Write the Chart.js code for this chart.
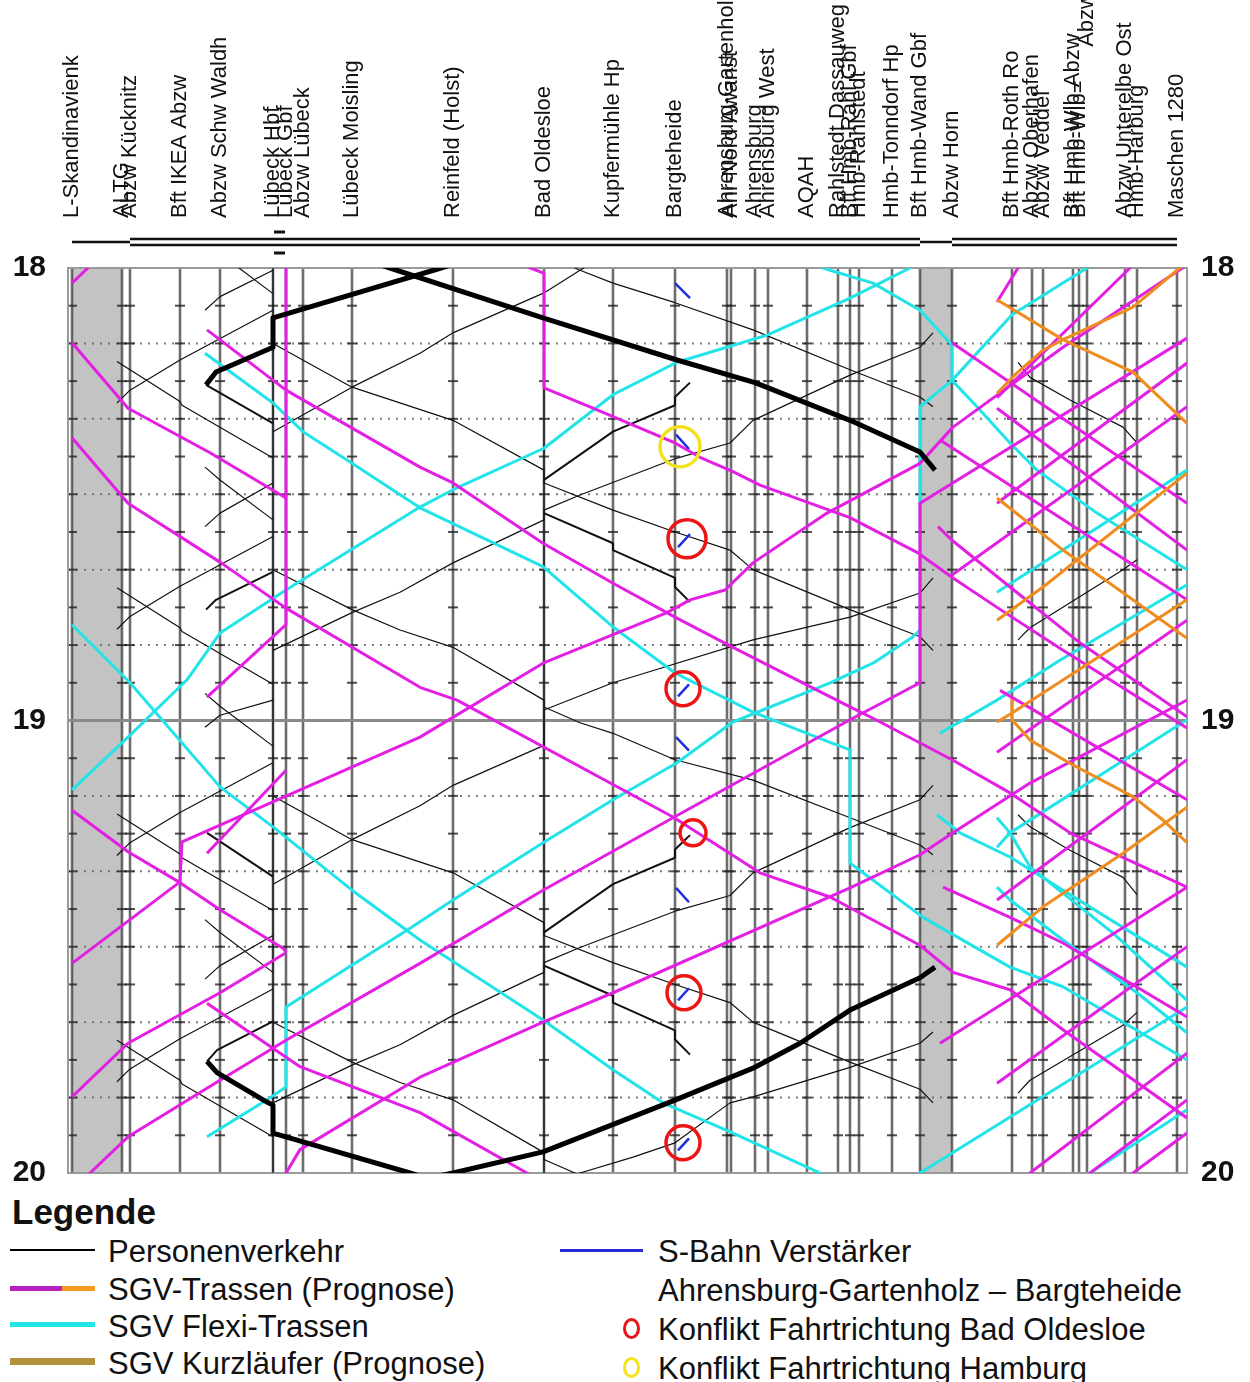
<!DOCTYPE html>
<html>
<head>
<meta charset="utf-8">
<script src="https://cdn.jsdelivr.net/npm/chart.js@4.4.1/dist/chart.umd.min.js"></script>
<style>
  html, body { margin: 0; padding: 0; background: #fff; }
  #wrap { position: relative; width: 1250px; height: 1382px; overflow: hidden; background: #fff; }
  #c { position: absolute; left: 0; top: 0; }
  .lt { position: absolute; font-family: 'Liberation Sans', Arial, sans-serif; font-size: 31px; line-height: 31px; color: #111; white-space: nowrap; }
  .ln { position: absolute; }
  .ci { position: absolute; width: 17px; height: 21px; box-sizing: border-box; border: 3px solid; border-radius: 50%; }
</style>
</head>
<body>
<div id="wrap">
  <canvas id="c" width="1250" height="1192"></canvas>

  <div class="lt" style="left:12px;top:1194px;font-size:35px;line-height:35px;font-weight:bold;">Legende</div>

  <div class="ln" style="left:10px;top:1249px;width:85px;height:2px;background:#000;"></div>
  <div class="lt" style="left:108px;top:1236px;">Personenverkehr</div>

  <div class="ln" style="left:10px;top:1286px;width:52px;height:5px;background:#b520c0;"></div>
  <div class="ln" style="left:62px;top:1286px;width:33px;height:5px;background:#f39a1e;"></div>
  <div class="lt" style="left:108px;top:1274px;">SGV-Trassen (Prognose)</div>

  <div class="ln" style="left:10px;top:1322px;width:85px;height:5px;background:#22e6e6;"></div>
  <div class="lt" style="left:108px;top:1311px;">SGV Flexi-Trassen</div>

  <div class="ln" style="left:10px;top:1358px;width:85px;height:7px;background:#b4923a;"></div>
  <div class="lt" style="left:108px;top:1348px;">SGV Kurzläufer (Prognose)</div>

  <div class="ln" style="left:560px;top:1249px;width:83px;height:3px;background:#2a2ad8;"></div>
  <div class="lt" style="left:658px;top:1236px;">S-Bahn Verstärker</div>
  <div class="lt" style="left:658px;top:1275px;">Ahrensburg-Gartenholz – Bargteheide</div>

  <div class="ci" style="left:623px;top:1318px;border-color:#e8141a;"></div>
  <div class="lt" style="left:658px;top:1314px;">Konflikt Fahrtrichtung Bad Oldesloe</div>

  <div class="ci" style="left:623px;top:1357px;border-color:#f4e41a;"></div>
  <div class="lt" style="left:658px;top:1353px;">Konflikt Fahrtrichtung Hamburg</div>
</div>

<script>
// ---------------- DATA ----------------
// Stations (x: km-like position)
const stationNames = ["L-Skandinavienk","ALTG","Abzw Kücknitz","Bft IKEA Abzw","Abzw Schw Waldh","Lübeck Hbf","Lübeck Gbf","Abzw Lübeck","Lübeck Moisling","Reinfeld (Holst)","Bad Oldesloe","Kupfermühle Hp","Bargteheide","Ahrensburg-Gartenholz","Ahr-Nord Awanst","Ahrensburg","Ahrensburg West","AQAH","Rahlstedt Dassauweg","Bft Hmb-Rahl Gbf","Hmb-Rahlstedt","Hmb-Tonndorf Hp","Bft Hmb-Wand Gbf","Abzw Horn","Bft Hmb-Roth Ro","Abzw Oberhafen","Abzw Veddel","Bft Hmb-Wlb Abzw","Bft Hmb-Wlb=","                            Abzw Wlb","Abzw Unterelbe Ost","Hmb-Harburg","Maschen 1280"];
const stationKm = [0.4,5.4,6.2,11.2,15.2,20.5,21.8,23.5,28.4,38.5,47.6,54.5,60.7,65.9,66.3,68.7,70.0,73.9,77.0,78.2,79.1,82.4,85.2,88.4,94.4,96.4,97.5,100.5,101.1,101.9,105.7,106.9,110.9];
// time axis: minutes after 18:00, labels every hour
const timeTicks = [0, 60, 120];
const hourLabels = ["18", "19", "20"];
// shaded station areas and track layout (km ranges)
const greyBands = [[0.4,5.4],[85.2,88.4]];
const singleTrack = [[0.4,6.2],[85.2,88.4]];
const doubleTrack = [[6.2,85.2],[88.4,110.9]];

// Paths: [km, minute]
const personenverkehr = [
  [[4.9,17.9],[6.2,16.2],[11.2,12.2],[20.5,5.6]],
  [[4.9,47.9],[6.2,46.2],[11.2,42.2],[20.5,35.6]],
  [[4.9,77.9],[6.2,76.2],[11.2,72.2],[20.5,65.6]],
  [[4.9,107.9],[6.2,106.2],[11.2,102.2],[20.5,95.6]],
  [[4.9,12.4],[11.2,17.7],[11.4,18.2],[20.5,25.2]],
  [[4.9,42.4],[11.2,47.7],[11.4,48.2],[20.5,55.2]],
  [[4.9,72.4],[11.2,77.7],[11.4,78.2],[20.5,85.2]],
  [[4.9,102.4],[11.2,107.7],[11.4,108.2],[20.5,115.2]],
  [[20.5,0.3],[15.2,3.8],[13.7,5.6]],
  [[20.5,28.5],[15.2,32.5],[13.7,34.3]],
  [[20.5,57.3],[15.2,59.3],[13.7,60.9]],
  [[20.5,88.5],[15.2,92.5],[13.7,94.3]],
  [[13.7,-3.6],[15.2,-1.9],[20.5,3.4]],
  [[13.7,26.4],[15.2,28.1],[20.5,33.4]],
  [[13.7,56.4],[15.2,58.1],[20.5,63.4]],
  [[13.7,86.4],[15.2,88.1],[20.5,93.4]],
  [[47.6,-1.8],[51.2,0.3],[54.5,2.0],[60.7,4.6],[68.5,8.2],[78.2,13.5],[85.2,17.1],[86.5,18.4]],
  [[20.5,10.0],[28.4,15.8],[38.5,20.2],[47.6,26.8],[47.6,28.5],[54.5,32.1],[60.7,35.0],[66.2,37.4],[68.5,40.0],[78.2,45.3],[85.2,48.9],[86.5,50.7]],
  [[20.5,40.0],[28.4,45.3],[33.2,48.0],[38.5,50.3],[47.6,57.3],[47.6,58.2],[51.2,60.3],[54.5,61.7],[60.7,65.2],[68.5,67.9],[78.2,72.9],[85.2,76.5],[86.5,77.8]],
  [[20.5,70.0],[28.4,75.8],[38.5,80.2],[47.6,86.8],[47.6,88.5],[54.5,92.1],[60.7,95.0],[66.2,97.4],[68.5,100.0],[78.2,105.3],[85.2,108.9],[86.5,110.7]],
  [[20.5,100.0],[28.4,105.3],[33.2,108.0],[38.5,110.3],[47.6,117.3],[47.6,118.2],[51.2,120.3],[54.5,121.7]],
  [[54.5,-2.4],[51.2,0.3],[47.6,3.3],[38.5,8.6],[35.2,11.3],[28.4,15.8],[20.5,21.7]],
  [[86.5,8.6],[85.2,10.5],[78.2,14.2],[68.5,20.2],[66.2,23.2],[60.9,25.2],[51.2,30.1],[47.6,32.1],[47.6,33.4],[38.5,39.1],[33.2,43.0],[28.4,45.7],[20.5,50.7]],
  [[86.5,41.1],[85.2,43.1],[78.2,46.3],[68.5,49.3],[56.5,54.2],[54.5,55.0],[47.6,58.6],[47.6,63.3],[38.5,68.6],[35.2,71.3],[28.4,75.8],[20.5,81.7]],
  [[86.5,68.6],[85.2,70.5],[78.2,74.2],[68.5,80.2],[66.2,83.2],[60.9,85.2],[51.2,90.1],[47.6,92.1],[47.6,93.4],[38.5,99.1],[33.2,103.0],[28.4,105.7],[20.5,110.7]],
  [[86.5,101.3],[85.2,102.8],[78.2,106.0],[68.5,109.9],[66.2,110.7],[60.7,116.0],[56.5,117.9],[51.2,120.0],[49.2,120.9]],
  [[95.0,12.5],[96.2,14.5],[100.2,17.5],[105.5,21.1],[106.9,23.2]],
  [[95.0,72.5],[96.2,74.1],[100.2,77.2],[105.5,80.8],[106.9,83.1]],
  [[95.0,49.3],[96.2,47.7],[105.5,40.0],[106.9,38.7]],
  [[95.0,109.4],[96.2,107.7],[105.5,100.4],[106.9,98.7]],
  [[20.5,-1],[20.5,121]],
  [[47.6,16.0],[47.6,121]]
];
const personenverkehrMittel = [
  [[62.2,15.2],[60.7,17.1],[60.7,18.2],[54.5,21.7],[47.6,28.1]],
  [[47.6,32.5],[54.5,36.5],[54.5,37.4],[60.7,41.1],[60.7,42.3],[62.2,44.3]],
  [[62.2,75.2],[60.7,77.1],[60.7,78.2],[54.5,81.7],[47.6,88.1]],
  [[47.6,92.5],[54.5,96.5],[54.5,97.4],[60.7,101.1],[60.7,102.3],[62.2,104.3]],
  [[13.8,15.5],[20.5,20.6]],
  [[13.9,74.9],[20.5,80.7]],
  [[20.5,40.3],[14.8,44.0],[13.8,45.3]],
  [[20.5,99.9],[14.9,103.7],[13.9,105.2]]
];
const personenverkehrDick = [
  [[40.2,-1.2],[37.3,0],[20.5,6.6],[20.5,10.5],[14.8,13.8],[13.8,15.5]],
  [[29.2,-1.3],[32.2,0],[47.5,6.6],[60.9,12.2],[68.7,15.2],[78.2,20.2],[85.2,24.4],[86.7,26.8]],
  [[13.9,105.2],[14.9,106.7],[19.9,110.6],[20.5,111.0],[20.5,114.7],[34.2,120],[37.2,121.2]],
  [[86.7,92.7],[85.2,94.1],[78.2,98.4],[73.2,102.8],[68.5,106.1],[60.2,110.6],[47.5,117.2],[38.5,120],[35.2,120.9]]
];
const sgvTrassen = [
  [[2.85,-1.1],[0.4,2.0]],
  [[0.4,9.9],[6.0,18.6],[14.2,24.5],[21.8,30.5]],
  [[0.4,22.5],[6.0,31.2],[15.2,39.0],[21.8,45.1],[35.2,55.6],[38.9,57.3],[60.5,72.8],[69.2,80.2],[76.2,83.4],[85.2,89.8],[88.5,93.4],[94.2,95.7],[99.5,101.0],[111.9,112.7]],
  [[21.8,-1],[21.8,47.3],[13.9,56.9]],
  [[21.8,66.6],[13.9,77.6]],
  [[0.4,92.2],[11.2,81.4],[11.4,76.1],[35.2,62.2],[47.5,52.4],[59.9,45.7],[62.2,44.0],[65.7,42.7],[68.5,39.1],[75.9,32.5],[85.2,25.9],[88.5,21.1],[99.5,10.5],[111.9,-0.4],[113.2,-1.6]],
  [[44.7,-0.8],[47.6,0.7],[47.6,15.9],[52.2,18.4],[60.7,23.2],[63.2,25.1],[66.5,27.0],[69.2,28.8],[78.2,33.1],[84.9,37.7],[88.5,41.1],[92.9,45.0],[99.5,50.7],[111.9,61.0]],
  [[0.4,71.9],[6.0,77.4],[11.2,81.5],[15.2,85.1],[21.5,90.2],[21.8,90.7]],
  [[21.8,90.8],[15.2,96.1],[6.0,102.8],[0.4,109.9]],
  [[1.2,121.2],[2.2,120],[6.0,115.2],[15.2,107.7],[21.8,102.4],[35.2,92.2],[47.5,82.5],[60.5,72.9],[78.2,59.9],[85.2,55.0],[85.2,31.2],[111.9,9.3]],
  [[13.9,97.5],[23.2,105.9],[35.2,112.0],[45.9,120],[47.7,121.3]],
  [[21.5,121],[21.8,120],[23.2,116.9],[35.2,107.3],[47.5,100.0],[54.5,96.1],[78.2,82.2],[85.2,77.8],[88.5,74.9],[96.2,68.3],[111.9,57.3]],
  [[13.9,8.2],[21.8,16.2],[35.2,26.4],[38.5,28.5],[47.5,36.5],[54.5,41.8],[60.7,46.3],[66.5,50.3],[78.2,58.2],[80.5,59.7],[88.4,65.2],[94.2,69.6],[100.2,74.9],[111.9,82.1]],
  [[95.5,-1.1],[95.0,0],[92.9,4.5]],
  [[107.1,-1.1],[106.2,0],[92.9,17.2]],
  [[88.4,9.9],[111.9,31.2]],
  [[92.9,18.6],[111.9,37.4]],
  [[87.2,22.8],[111.9,44.0]],
  [[87.0,34.3],[88.4,36.1],[94.2,42.3],[101.2,49.7],[111.9,59.5]],
  [[92.9,31.2],[111.9,12.6]],
  [[88.4,40.7],[111.9,18.4]],
  [[93.2,56.0],[111.9,70.5]],
  [[87.5,82.1],[94.2,86.1],[99.5,89.5],[111.9,99.3]],
  [[92.9,83.8],[111.9,65.2]],
  [[87.2,102.8],[111.9,82.1]],
  [[92.9,108.1],[111.9,90.0]],
  [[95.4,121],[96.2,120],[111.9,104.1]],
  [[101.2,121.2],[102.2,120],[111.9,110.3]],
  [[105.4,121.2],[106.5,120],[111.9,114.7]],
  [[92.9,64.2],[111.9,46.7]]
];
const sgvOrange = [
  [[92.9,4.2],[99.5,9.5],[106.5,13.8],[111.9,20.6]],
  [[92.9,16.6],[94.9,13.9],[97.5,10.9],[99.5,9.5],[106.5,5.2],[110.9,0.3],[111.9,-0.8]],
  [[92.9,30.5],[99.5,37.4],[111.9,49.1]],
  [[92.9,46.7],[97.5,42.3],[111.9,27.2]],
  [[92.9,60.2],[94.4,59.0],[111.9,44.0]],
  [[94.4,57.3],[94.4,59.9],[96.2,62.6],[100.5,65.9],[106.5,70.1],[109.5,73.2],[111.9,76.2]],
  [[92.9,89.8],[97.5,84.7],[105.5,77.6],[111.9,71.5]]
];
const sgvFlexi = [
  [[13.7,11.3],[20.5,17.9],[23.5,21.7],[28.4,25.9],[35.2,31.8],[47.5,39.6],[54.5,47.6],[60.7,53.7],[68.5,58.9],[76.2,62.9],[78.2,63.9],[78.2,78.9],[85.5,86.1],[94.2,92.7],[99.5,95.3],[111.9,105.0]],
  [[0.4,69.2],[6.0,62.2],[11.9,54.6],[15.2,48.4],[21.8,42.7],[35.2,31.7],[38.5,29.4],[47.6,23.9],[54.5,16.8],[60.9,12.5],[69.9,8.9],[78.2,4.0],[84.2,0],[85.8,-1.1]],
  [[0.4,47.3],[6.2,55.0],[15.2,68.8],[20.5,74.1],[28.4,82.5],[35.2,89.1],[47.5,99.7],[54.5,106.3],[59.5,110.7],[66.5,114.7],[75.2,120],[77.2,121.2]],
  [[13.9,115.2],[19.9,110.3],[21.8,108.6],[21.8,98.0],[33.9,87.8],[38.5,83.8],[47.5,76.2],[54.5,70.5],[60.9,65.6],[66.5,60.2],[76.2,55.0],[80.5,52.4],[84.5,48.9],[85.2,48.0]],
  [[73.7,-0.8],[76.2,0.3],[80.5,2.0],[85.2,5.6],[88.4,10.2],[88.4,14.9],[90.9,18.4],[94.2,23.2],[96.9,26.8],[102.9,32.5],[111.9,40.0]],
  [[103.2,-1.1],[101.9,0],[94.4,6.2],[88.4,14.9],[85.2,18.4],[85.2,31.2]],
  [[87.2,61.7],[92.9,57.3],[99.2,52.0],[111.9,42.0]],
  [[92.9,43.0],[111.9,26.8]],
  [[86.9,72.5],[89.2,74.9],[94.2,78.1],[99.5,82.5],[111.9,92.7]],
  [[92.9,72.9],[94.2,74.9],[96.2,79.4],[104.5,88.2],[111.9,97.1]],
  [[92.9,82.1],[94.2,83.8],[99.5,89.1],[106.9,96.1],[111.9,101.4]],
  [[92.9,76.8],[94.2,74.9],[111.9,59.9]],
  [[83.7,121.2],[85.2,120],[111.9,98.0]],
  [[101.2,120.8],[102.2,120],[111.9,111.6]]
];
const sBahnVerstaerker = [
  [[60.7,2.0],[62.2,4.0]],
  [[60.8,22.1],[62.1,24.0]],
  [[61.0,37.0],[62.2,35.3]],
  [[61.0,56.8],[62.1,55.2]],
  [[60.8,62.2],[62.1,64.0]],
  [[60.8,82.2],[62.1,84.1]],
  [[61.0,97.1],[62.1,95.5]],
  [[61.0,117.0],[62.1,115.4]]
];
const konfliktOldesloe = [[61.9,35.9],[61.5,55.8],[62.5,74.9],[61.6,96.1],[61.5,116.0]];
const konfliktHamburg = [[61.2,23.7]];

// ---------------- CHART ----------------
const FONT = "'Liberation Sans', Arial, sans-serif";

function lines(paths, color, width, order) {
  return paths.map(p => ({
    type: 'line',
    data: p.map(([x, y]) => ({ x, y })),
    borderColor: color,
    borderWidth: width,
    pointRadius: 0,
    tension: 0,
    fill: false,
    clip: 0,
    order: order,
    borderCapStyle: 'butt',
    borderJoinStyle: 'round'
  }));
}

const datasets = [].concat(
  [{
    type: 'scatter', data: konfliktHamburg.map(([x, y]) => ({ x, y })),
    pointRadius: [20], pointBorderWidth: 3.5, pointBorderColor: '#f2e11c',
    pointBackgroundColor: 'rgba(0,0,0,0)', showLine: false, order: 0, clip: false
  }, {
    type: 'scatter', data: konfliktOldesloe.map(([x, y]) => ({ x, y })),
    pointRadius: [19, 17, 13, 17, 17], pointBorderWidth: 3.5, pointBorderColor: '#ee1414',
    pointBackgroundColor: 'rgba(0,0,0,0)', showLine: false, order: 0, clip: false
  }],
  lines(sBahnVerstaerker, '#1c2fe0', 2.5, 1),
  lines(personenverkehrDick, '#000000', 5, 2),
  lines(sgvOrange, '#f08c1e', 3, 3),
  lines(sgvTrassen, '#e41fe4', 3, 4),
  lines(sgvFlexi, '#22e4e8', 3, 5),
  lines(personenverkehrMittel, '#111111', 2, 6),
  lines(personenverkehr, '#111111', 1.2, 7)
);

const bfp = {
  id: 'bfp',
  beforeDraw(chart) {
    const { ctx, chartArea: a } = chart;
    const x = chart.scales.x, y = chart.scales.y;
    ctx.save();
    ctx.fillStyle = '#fff';
    ctx.fillRect(0, 0, chart.width, chart.height);
    // grey station areas
    ctx.fillStyle = '#c3c3c3';
    greyBands.forEach(([k1, k2]) => {
      const x1 = x.getPixelForValue(k1), x2 = x.getPixelForValue(k2);
      ctx.fillRect(x1, a.top, x2 - x1, a.bottom - a.top);
    });
    // 10-minute dotted lines
    ctx.strokeStyle = 'rgba(100,100,100,0.85)';
    ctx.lineWidth = 2;
    ctx.setLineDash([2, 6]);
    for (let m = 10; m < 120; m += 10) {
      if (m === 60) continue;
      const py = y.getPixelForValue(m);
      ctx.beginPath(); ctx.moveTo(a.left, py); ctx.lineTo(a.right, py); ctx.stroke();
    }
    ctx.setLineDash([]);
    // station verticals
    ctx.strokeStyle = 'rgba(60,60,60,0.75)';
    ctx.lineWidth = 2.6;
    stationKm.forEach(k => {
      const px = x.getPixelForValue(k);
      ctx.beginPath(); ctx.moveTo(px, a.top); ctx.lineTo(px, a.bottom); ctx.stroke();
    });
    // 5-minute marks on station lines
    ctx.strokeStyle = 'rgba(35,35,35,0.8)';
    ctx.lineWidth = 2;
    stationKm.forEach(k => {
      const px = x.getPixelForValue(k);
      for (let m = 5; m < 120; m += 5) {
        const py = y.getPixelForValue(m);
        ctx.beginPath(); ctx.moveTo(px - 5, py); ctx.lineTo(px + 5, py); ctx.stroke();
      }
    });
    // hour line 19:00
    ctx.strokeStyle = '#8a8a8a';
    ctx.lineWidth = 3;
    const p60 = y.getPixelForValue(60);
    ctx.beginPath(); ctx.moveTo(a.left, p60); ctx.lineTo(a.right, p60); ctx.stroke();
    // frame
    ctx.strokeStyle = '#9a9a9a';
    ctx.lineWidth = 2;
    ctx.strokeRect(a.left, a.top, a.right - a.left, a.bottom - a.top);
    // track layout diagram above the chart
    const ty = a.top - 26;
    ctx.strokeStyle = '#111';
    ctx.lineWidth = 2.5;
    singleTrack.forEach(([k1, k2]) => {
      ctx.beginPath(); ctx.moveTo(x.getPixelForValue(k1), ty); ctx.lineTo(x.getPixelForValue(k2), ty); ctx.stroke();
    });
    doubleTrack.forEach(([k1, k2]) => {
      [-3, 3].forEach(d => {
        ctx.beginPath(); ctx.moveTo(x.getPixelForValue(k1), ty + d); ctx.lineTo(x.getPixelForValue(k2), ty + d); ctx.stroke();
      });
    });
    // station marker Lübeck Hbf
    const ph = x.getPixelForValue(stationKm[5]);
    ctx.lineWidth = 3;
    [-10, 11].forEach(d => {
      ctx.beginPath(); ctx.moveTo(ph + 1, ty + d); ctx.lineTo(ph + 12, ty + d); ctx.stroke();
    });
    ctx.restore();
  }
};

new Chart(document.getElementById('c'), {
  type: 'line',
  data: { datasets },
  options: {
    responsive: false,
    animation: false,
    events: [],
    layout: { autoPadding: false, padding: { left: 0, right: 0, top: 0, bottom: 19 } },
    plugins: { legend: { display: false }, tooltip: { enabled: false } },
    scales: {
      x: {
        type: 'linear', position: 'top', min: 0, max: 111.9,
        afterBuildTicks: s => { s.ticks = stationKm.map(v => ({ value: v })); },
        afterFit: s => { s.height = 268; s.paddingLeft = 0; s.paddingRight = 0; },
        grid: { display: false, drawTicks: false },
        border: { display: false },
        ticks: {
          autoSkip: false, minRotation: 90, maxRotation: 90, padding: 50, labelOffset: 26,
          color: '#111', font: { family: FONT, size: 22 },
          callback: (v, i) => stationNames[i]
        }
      },
      y: {
        type: 'linear', position: 'left', reverse: true, min: 0, max: 120,
        afterBuildTicks: s => { s.ticks = timeTicks.map(v => ({ value: v })); },
        afterFit: s => { s.width = 68; s.paddingTop = 0; s.paddingBottom = 0; },
        grid: { display: false, drawTicks: false },
        border: { display: false },
        ticks: { padding: 22, color: '#111', font: { family: FONT, size: 30, weight: 'bold' },
          callback: (v, i) => hourLabels[i] }
      },
      y2: {
        type: 'linear', position: 'right', reverse: true, min: 0, max: 120,
        afterBuildTicks: s => { s.ticks = timeTicks.map(v => ({ value: v })); },
        afterFit: s => { s.width = 63; s.paddingTop = 0; s.paddingBottom = 0; },
        grid: { display: false, drawTicks: false },
        border: { display: false },
        ticks: { padding: 14, color: '#111', font: { family: FONT, size: 30, weight: 'bold' },
          callback: (v, i) => hourLabels[i] }
      }
    }
  },
  plugins: [bfp]
});
</script>
</body>
</html>
